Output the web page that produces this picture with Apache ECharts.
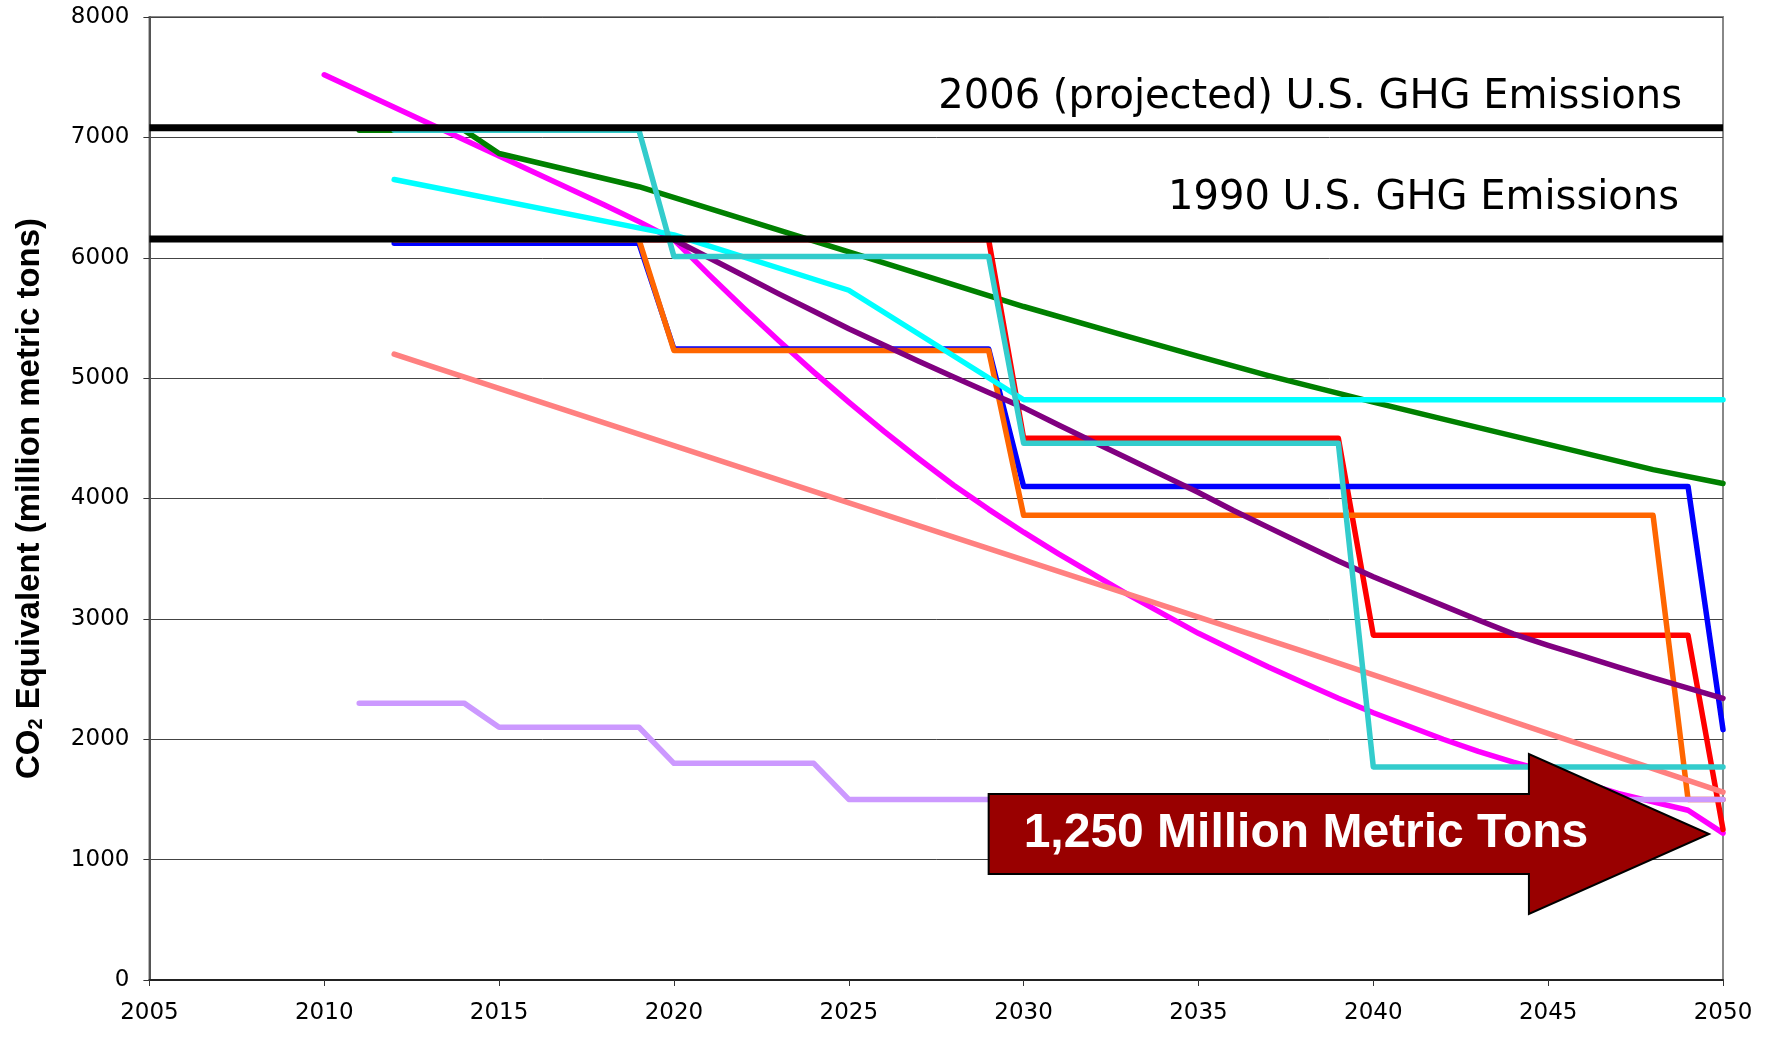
<!DOCTYPE html>
<html><head><meta charset="utf-8">
<script src="https://cdn.jsdelivr.net/npm/echarts@6/dist/echarts.min.js"></script>
<style>html,body{margin:0;padding:0;background:#fff}#c{width:1775px;height:1037px}</style>
</head><body><div id="c"></div>
<script>
// ---- data (years / values) ----
const xTicks = [2005, 2010, 2015, 2020, 2025, 2030, 2035, 2040, 2045, 2050];
const yTicks = [0, 1000, 2000, 3000, 4000, 5000, 6000, 7000, 8000];

const magentaYears = [2010,2011,2012,2013,2014,2015,2016,2017,2018,2019,2020,2021,2022,2023,2024,2025,2026,2027,2028,2029,2030,2031,2032,2033,2034,2035,2036,2037,2038,2039,2040,2041,2042,2043,2044,2045,2046,2047,2048,2049,2050];
const magentaValues = [7520,7385,7250,7115,6980,6845,6710,6575,6440,6300,6150,5860,5580,5310,5050,4800,4560,4330,4110,3910,3720,3540,3370,3200,3040,2880,2740,2600,2470,2340,2220,2110,2000,1900,1810,1730,1640,1550,1480,1410,1220];

const greenYears = [2011,2012,2013,2014,2015,2019,2025,2030,2033,2035,2037,2040,2042,2045,2048,2050];
const greenValues = [7060,7060,7060,7060,6866,6590,6048,5595,5345,5180,5020,4800,4660,4450,4240,4125];

const redYears = [2012,2029,2030,2039,2040,2049,2050];
const redValues = [6150,6150,4500,4500,2865,2865,1250];

const blueYears = [2012,2019,2020,2029,2030,2049,2050];
const blueValues = [6120,6120,5242,5242,4100,4100,2080];

const orangeYears = [2012,2019,2020,2029,2030,2048,2049,2050];
const orangeValues = [6150,6150,5230,5230,3860,3860,1500,1500];

const purpleYears = [2020,2021,2022,2023,2024,2025,2026,2027,2028,2029,2030,2031,2032,2033,2034,2035,2036,2037,2038,2039,2040,2041,2042,2043,2044,2045,2046,2047,2048,2049,2050];
const purpleValues = [6150,6000,5850,5700,5555,5410,5275,5140,5010,4880,4755,4610,4470,4330,4190,4050,3900,3760,3620,3480,3350,3230,3110,2990,2875,2780,2690,2600,2510,2425,2340];

const cyanYears = [2012,2020,2025,2030,2050];
const cyanValues = [6650,6190,5730,4820,4820];

const salmonYears = [2012,2028,2038,2050];
const salmonValues = [5200,3680,2730,1560];

const lavenderYears = [2011,2014,2015,2019,2020,2024,2025,2050];
const lavenderValues = [2300,2300,2100,2100,1800,1800,1500,1500];

const turquoiseYears = [2012,2019,2020,2029,2030,2039,2040,2050];
const turquoiseValues = [7060,7060,6010,6010,4460,4460,1770,1770];

const refYears = [2005, 2050];
const ref2006Value = 7080;
const ref1990Value = 6155;
const ref2006Label = '2006 (projected) U.S. GHG Emissions';
const ref1990Label = '1990 U.S. GHG Emissions';

const arrowText = '1,250 Million Metric Tons';
// arrow outline in data units (years / million metric tons)
const arrowYears = [2029.0, 2044.45, 2049.6];      // body left, head base, tip
const arrowValues = [1545, 880, 1877, 548, 1213];  // body top, body bottom, head top, head bottom, middle

function pairs(xs, ys){ return xs.map((x,i)=>[x, ys[i]]); }

function lineSeries(name, xs, ys, color, width, z){
  return {
    name, type:'line', data: pairs(xs, ys), showSymbol:false, symbol:'none',
    lineStyle:{color, width: width || 5.5, cap:'round', join:'round'},
    z: z || 2, animation:false, silent:true
  };
}

function refSeries(name, value, label, offset, z){
  const s = lineSeries(name, refYears, [value, value], '#000000', 7, z);
  s.lineStyle.cap = 'butt';
  s.markPoint = {
    symbol:'circle', symbolSize:0, silent:true, animation:false,
    data:[{coord:[refYears[1], value], value: label}],
    label:{show:true, position:'inside', formatter: label, color:'#000',
      fontFamily:'DejaVu Sans', fontSize:40, align:'right', verticalAlign:'bottom', offset}
  };
  return s;
}

const chart = echarts.init(document.getElementById('c'), null, {renderer:'canvas'});
const numFmt = v => String(v);

chart.setOption({
  backgroundColor:'#ffffff',
  animation:false,
  grid:{left:149.4, right:52, top:17, bottom:57, containLabel:false, show:true, borderColor:'#888', borderWidth:2, backgroundColor:'#fff'},
  xAxis:{
    type:'value', min:xTicks[0], max:xTicks[xTicks.length-1], interval:5,
    axisLine:{show:true, onZero:false, lineStyle:{color:'#222', width:2}},
    axisTick:{show:true, inside:false, length:6, lineStyle:{color:'#333', width:1}},
    axisLabel:{formatter:numFmt, color:'#000', fontFamily:'DejaVu Sans', fontSize:23, margin:22},
    splitLine:{show:false}
  },
  yAxis:{
    type:'value', min:yTicks[0], max:yTicks[yTicks.length-1], interval:1000,
    name:'{a|CO}{b|2}{a| Equivalent (million metric tons)}',
    nameLocation:'middle', nameGap:103,
    nameTextStyle:{rich:{
      a:{fontFamily:'Liberation Sans', fontWeight:'bold', fontSize:33, color:'#000', lineHeight:33},
      b:{fontFamily:'Liberation Sans', fontWeight:'bold', fontSize:20, color:'#000', lineHeight:33, padding:[14,0,0,0]}
    }},
    axisLine:{show:true, lineStyle:{color:'#555', width:2}},
    axisTick:{show:true, inside:false, length:6, lineStyle:{color:'#333', width:1}},
    axisLabel:{formatter:numFmt, color:'#000', fontFamily:'DejaVu Sans', fontSize:23, margin:20},
    splitLine:{show:true, lineStyle:{color:'#444', width:1}}
  },
  series:[
    lineSeries('magenta', magentaYears, magentaValues, '#FF00FF', 5.5, 2),
    lineSeries('green', greenYears, greenValues, '#008000', 5.5, 2),
    lineSeries('red', redYears, redValues, '#FF0000', 5.5, 2),
    lineSeries('blue', blueYears, blueValues, '#0000FF', 5.5, 2),
    lineSeries('orange', orangeYears, orangeValues, '#FF6600', 5.5, 2),
    lineSeries('purple', purpleYears, purpleValues, '#800080', 5.5, 2),
    lineSeries('cyan', cyanYears, cyanValues, '#00FFFF', 5.5, 2),
    lineSeries('salmon', salmonYears, salmonValues, '#FF8080', 5.5, 2),
    lineSeries('lavender', lavenderYears, lavenderValues, '#CC99FF', 5.5, 2),
    lineSeries('turquoise', turquoiseYears, turquoiseValues, '#33CCCC', 5.5, 2),
    refSeries('ref2006', ref2006Value, ref2006Label, [-41, -10], 3),
    refSeries('ref1990', ref1990Value, ref1990Label, [-44, -20], 3),
    {
      type:'custom', coordinateSystem:'cartesian2d', clip:false, silent:true, z:5, animation:false,
      data:[[arrowYears[2], arrowValues[4]]],
      renderItem:function(params, api){
        const p = (x, y) => api.coord([x, y]);
        const [bl, hb, tip] = arrowYears;
        const [bt, bb, ht, hbm, mid] = arrowValues;
        const pts = [p(bl,bt), p(hb,bt), p(hb,ht), p(tip,mid), p(hb,hbm), p(hb,bb), p(bl,bb)];
        const anchor = p(bl, mid);
        return {type:'group', children:[
          {type:'polygon', shape:{points:pts}, style:{fill:'#990000', stroke:'#000', lineWidth:2}},
          {type:'text', x:anchor[0]+35, y:anchor[1], style:{text:arrowText, fill:'#fff',
            fontFamily:'Liberation Sans', fontWeight:'bold', fontSize:48, align:'left', verticalAlign:'middle'}}
        ]};
      }
    }
  ]
});
</script></body></html>
